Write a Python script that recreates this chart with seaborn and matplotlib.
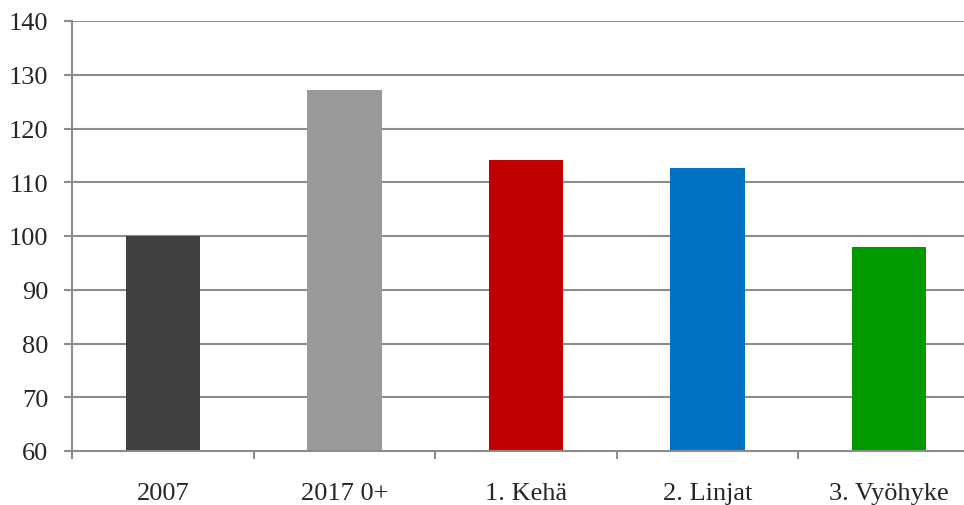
import matplotlib
matplotlib.use("Agg")
import matplotlib.pyplot as plt
import seaborn as sns
import pandas as pd
import numpy as np

# values (index, 2007 = 100)
categories = ["2007", "2017 0+", "1. Kehä", "2. Linjat", "3. Vyöhyke"]
values = [100.0, 127.2, 114.2, 112.7, 97.9]
colors = ["#404040", "#9a9a9a", "#c00000", "#0070c0", "#009900"]

df = pd.DataFrame({"cat": categories, "val": values})

sns.set_style("white")
plt.rcParams["font.family"] = ["Liberation Serif", "DejaVu Serif"]

fig = plt.figure(figsize=(9.64, 5.06), dpi=100)
ax = fig.add_axes([72 / 964, 54 / 506, (980 - 72) / 964, (452 - 22) / 506])

grid_c = "#8c8c8c"
for y in range(70, 141, 10):
    ax.axhline(y, color=grid_c, lw=1.5, zorder=0)

sns.barplot(data=df, x="cat", y="val", hue="cat", palette=colors,
            width=0.41, legend=False, saturation=1, linewidth=0,
            ax=ax, zorder=2)

ax.set_ylim(60, 140)
ax.set_xlim(-0.5, 4.5)
ax.set_yticks(range(60, 141, 10))
ax.set_xlabel("")
ax.set_ylabel("")

for s in ["top", "right"]:
    ax.spines[s].set_visible(False)
for s in ["left", "bottom"]:
    ax.spines[s].set_color(grid_c)
    ax.spines[s].set_linewidth(1.5)

ax.tick_params(axis="y", which="major", length=6, width=1.5, color=grid_c,
               labelsize=19, pad=11, direction="out", left=True)
ax.tick_params(axis="x", which="major", length=0, labelsize=19, pad=22)
ax.set_xticks(np.arange(-0.5, 4.6, 1), minor=True)
ax.tick_params(axis="x", which="minor", length=6, width=1.5, color=grid_c,
               direction="out", bottom=True)

fig.savefig("out.png", dpi=100)
